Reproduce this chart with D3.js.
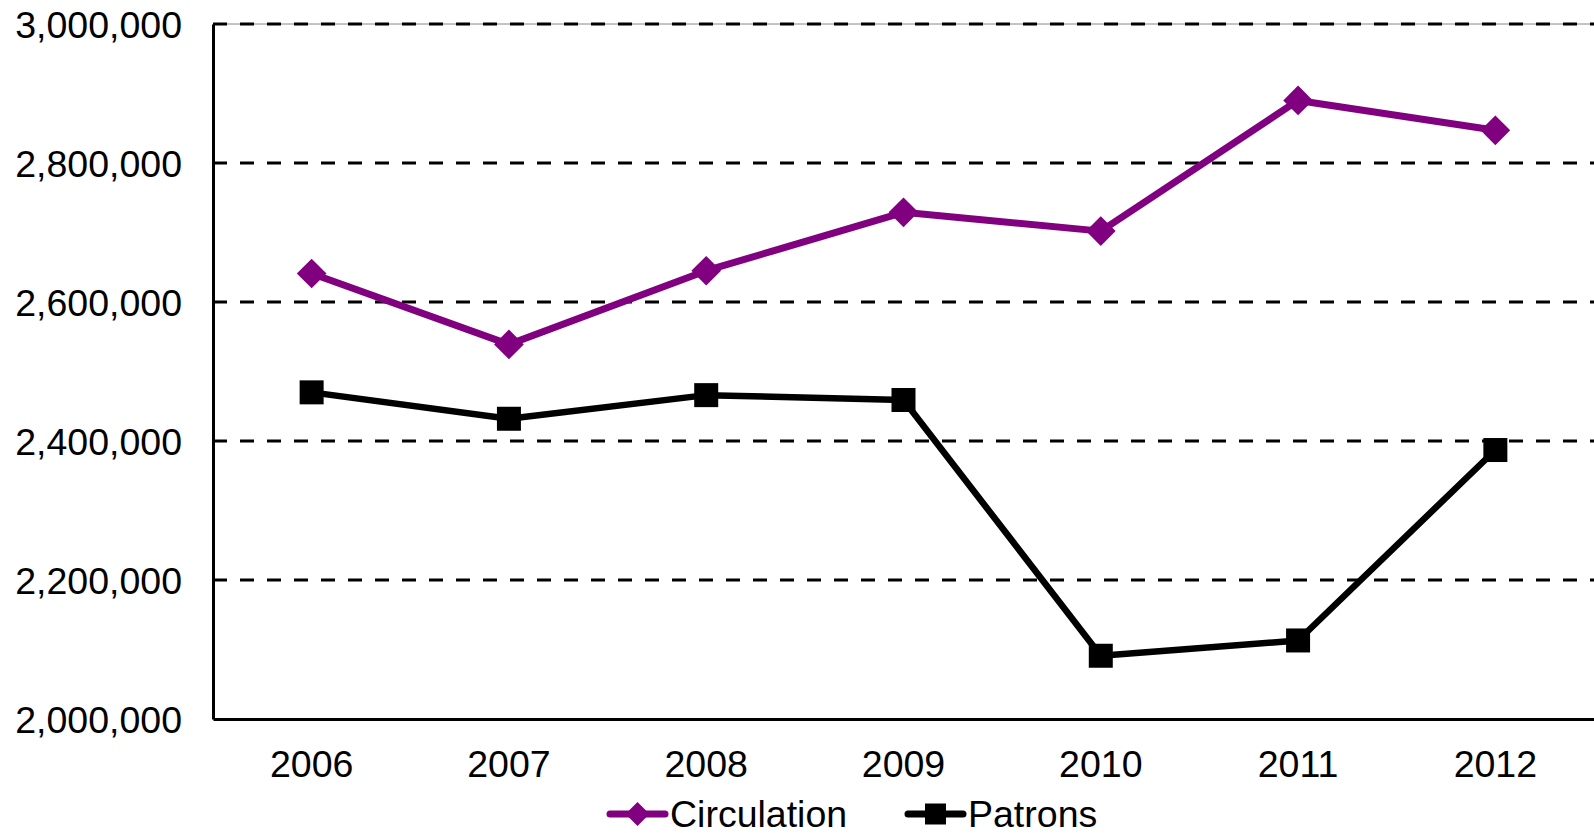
<!DOCTYPE html>
<html>
<head>
<meta charset="utf-8">
<script src="https://cdn.jsdelivr.net/npm/d3@7"></script>
<style>
  html, body { margin: 0; padding: 0; background: #fff; }
  svg { display: block; }
  text { font-family: "Liberation Sans", Arial, sans-serif; fill: #000; }
</style>
</head>
<body>
<svg id="chart" width="1594" height="833"></svg>
<script>
// Library circulation and patron counts by year
const years = ["2006", "2007", "2008", "2009", "2010", "2011", "2012"];
const circulation = [2641000, 2539000, 2645000, 2729000, 2702000, 2890000, 2847000];
const patrons = [2470000, 2432000, 2466000, 2459000, 2091000, 2113000, 2387000];
const yTicks = [2000000, 2200000, 2400000, 2600000, 2800000, 3000000];
const seriesNames = ["Circulation", "Patrons"];

const svg = d3.select("#chart");
const margin = { left: 213, top: 24, right: 0, bottom: 114 };
const W = 1594, H = 833;
const plotW = W - margin.left - margin.right;
const plotH = H - margin.top - margin.bottom;
const FONT = 37.5;

const x = d3.scaleBand().domain(years).range([margin.left, margin.left + plotW]).paddingInner(0).paddingOuter(0);
const y = d3.scaleLinear().domain([2000000, 3000000]).range([margin.top + plotH, margin.top]);
const fmt = d3.format(",");

// thin frame line along the top edge
svg.append("line")
  .attr("x1", margin.left).attr("x2", W)
  .attr("y1", y(3000000)).attr("y2", y(3000000))
  .attr("stroke", "#888").attr("stroke-width", 1);

// dashed horizontal gridlines
svg.append("g")
  .selectAll("line")
  .data(yTicks.filter(d => d > 2000000))
  .join("line")
  .attr("x1", margin.left).attr("x2", W)
  .attr("y1", d => y(d)).attr("y2", d => y(d))
  .attr("stroke", "#000").attr("stroke-width", 3)
  .attr("stroke-dasharray", "14,13");

// y axis
const yAxis = svg.append("g")
  .attr("transform", `translate(${margin.left},0)`)
  .call(d3.axisLeft(y).tickValues(yTicks).tickFormat(fmt).tickSize(0).tickPadding(31));
yAxis.select(".domain").attr("stroke", "#000").attr("stroke-width", 3);
yAxis.selectAll("text").attr("font-size", FONT).attr("dy", "0.35em")
  .attr("font-family", "'Liberation Sans', Arial, sans-serif");

// x axis
const xAxis = svg.append("g")
  .attr("transform", `translate(0,${margin.top + plotH})`)
  .call(d3.axisBottom(x).tickSize(0).tickPadding(31));
xAxis.select(".domain").attr("stroke", "#000").attr("stroke-width", 3);
xAxis.selectAll("text").attr("font-size", FONT)
  .attr("font-family", "'Liberation Sans', Arial, sans-serif");

const cx = d => x(d) + x.bandwidth() / 2;
const line = d3.line().x((d, i) => cx(years[i])).y(d => y(d));

const diamond = d3.symbol().type(d3.symbolSquare).size(21 * 21);
const square = d3.symbol().type(d3.symbolSquare).size(24 * 24);

// Circulation series
svg.append("path").datum(circulation)
  .attr("d", line).attr("fill", "none")
  .attr("stroke", "#800080").attr("stroke-width", 7)
  .attr("stroke-linejoin", "round");
svg.append("g").selectAll("path")
  .data(circulation)
  .join("path")
  .attr("d", diamond)
  .attr("transform", (d, i) => `translate(${cx(years[i])},${y(d)}) rotate(45)`)
  .attr("fill", "#800080");

// Patrons series
svg.append("path").datum(patrons)
  .attr("d", line).attr("fill", "none")
  .attr("stroke", "#000").attr("stroke-width", 6.5)
  .attr("stroke-linejoin", "round");
svg.append("g").selectAll("path")
  .data(patrons)
  .join("path")
  .attr("d", square)
  .attr("transform", (d, i) => `translate(${cx(years[i])},${y(d)})`)
  .attr("fill", "#000");

// legend
const legendY = 814;
const legendItems = [
  { name: seriesNames[0], color: "#800080", rot: 45, x0: 610, size: 17 },
  { name: seriesNames[1], color: "#000", rot: 0, x0: 908, size: 21 }
];
const lg = svg.append("g");
legendItems.forEach(it => {
  const g = lg.append("g");
  g.append("line")
    .attr("x1", it.x0).attr("x2", it.x0 + 55)
    .attr("y1", legendY).attr("y2", legendY)
    .attr("stroke", it.color).attr("stroke-width", 7)
    .attr("stroke-linecap", "round");
  g.append("path")
    .attr("d", d3.symbol().type(d3.symbolSquare).size(it.size * it.size))
    .attr("transform", `translate(${it.x0 + 27.5},${legendY}) rotate(${it.rot})`)
    .attr("fill", it.color);
  g.append("text")
    .attr("x", it.x0 + 60).attr("y", legendY)
    .attr("dy", "0.35em")
    .attr("font-size", FONT)
    .text(it.name);
});
</script>
</body>
</html>
